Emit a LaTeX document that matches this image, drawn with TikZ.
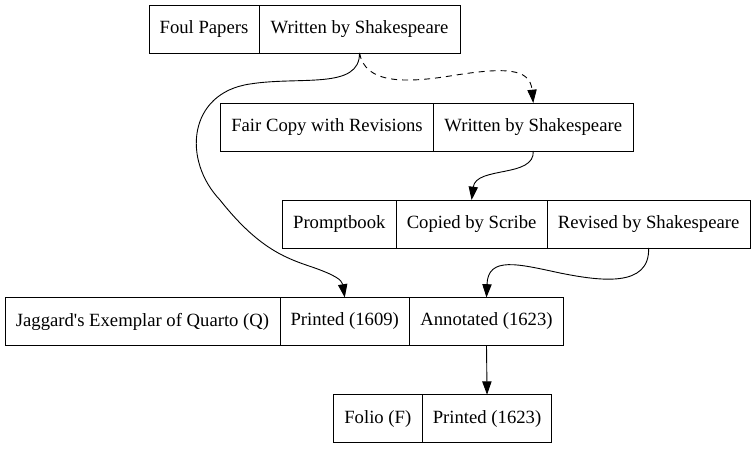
\documentclass[tikz,border=0pt]{standalone}
\usepackage{fontspec}
\setmainfont{Liberation Serif}
\usepackage{tikz}
\usetikzlibrary{arrows.meta, positioning}

\begin{document}
\begin{tikzpicture}[x=1pt, y=-1pt, line width=0.9pt,
  every node/.style={font=\fontsize{18.67}{22}\selectfont},
  fld/.style={draw, minimum height=48pt, inner sep=0pt, outer sep=0pt, align=center},
  edge/.style={->, >={Triangle[length=13.3pt, width=9.3pt]}}]
  \useasboundingbox (0,0) rectangle (755,449);

  % Row 1: Foul Papers
  \node[fld, minimum width=110pt] (foul) at (204,29) {Foul Papers};
  \node[fld, minimum width=201pt, right=0pt of foul] (foulw) {Written by Shakespeare};

  % Row 2: Fair Copy
  \node[fld, minimum width=212.5pt] (fair) at (327,127) {Fair Copy with Revisions};
  \node[fld, minimum width=200pt, right=0pt of fair] (fairw) {Written by Shakespeare};

  % Row 3: Promptbook
  \node[fld, minimum width=113.3pt] (prompt) at (339.3,224) {Promptbook};
  \node[fld, minimum width=151.3pt, right=0pt of prompt] (promptc) {Copied by Scribe};
  \node[fld, minimum width=202.7pt, right=0pt of promptc] (promptr) {Revised by Shakespeare};

  % Row 4: Jaggard's Quarto
  \node[fld, minimum width=275pt] (jag) at (142.5,321.5) {Jaggard\textquotesingle s Exemplar of Quarto (Q)};
  \node[fld, minimum width=129.5pt, right=0pt of jag] (jagp) {Printed (1609)};
  \node[fld, minimum width=154pt, right=0pt of jagp] (jaga) {Annotated (1623)};

  % Row 5: Folio
  \node[fld, minimum width=89pt] (folio) at (377.8,418.7) {Folio (F)};
  \node[fld, minimum width=129.5pt, right=0pt of folio] (foliop) {Printed (1623)};

  % Connectors
  \draw[edge] (foulw.south) .. controls (360,90) and (300,76) .. (250,84)
    .. controls (188,93) and (182,160) .. (220,200)
    .. controls (258,248) and (285,258) .. (312,267)
    .. controls (335,275) and (342,280) .. (jagp.north);
  \draw[edge, dash pattern=on 6pt off 5pt] (foulw.south) .. controls (365,82) and (400,84) .. (450,76)
    .. controls (505,67) and (530,68) .. (fairw.north);
  \draw[edge] (fairw.south) .. controls (535,178) and (476,166) .. (promptc.north);
  \draw[edge] (promptr.south) .. controls (650,288) and (600,281) .. (560,273)
    .. controls (518,264) and (488,256) .. (jaga.north);
  \draw[edge] (jaga.south) -- (foliop.north);
\end{tikzpicture}
\end{document}
